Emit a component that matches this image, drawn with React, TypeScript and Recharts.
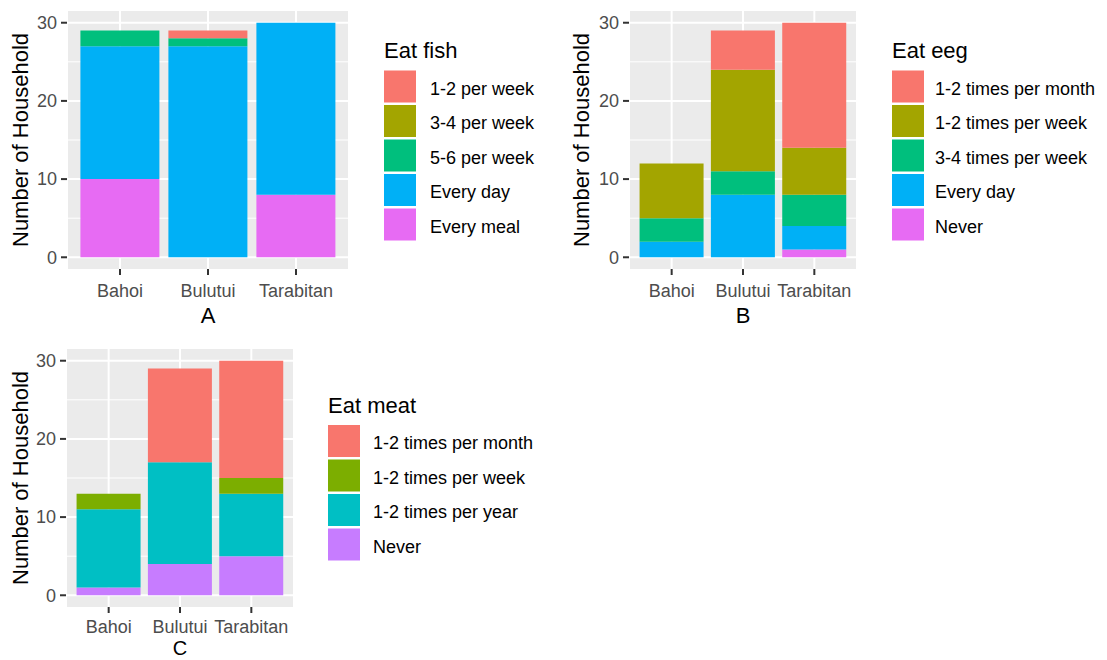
import { BarChart, Bar, XAxis, YAxis, CartesianGrid } from "recharts";

const SITES = ["Bahoi", "Bulutui", "Tarabitan"];
const Y_TICKS = [0, 10, 20, 30];
const Y_MINOR = [5, 15, 25];

// households per village, by how often they eat fish
const FISH_LEVELS = ["1-2 per week", "3-4 per week", "5-6 per week", "Every day", "Every meal"];
const fishWeek12 = [0, 1, 0];
const fishWeek34 = [0, 0, 0];
const fishWeek56 = [2, 1, 0];
const fishEveryDay = [17, 27, 22];
const fishEveryMeal = [10, 0, 8];

// ... eggs
const EGG_LEVELS = ["1-2 times per month", "1-2 times per week", "3-4 times per week", "Every day", "Never"];
const eggMonth12 = [0, 5, 16];
const eggWeek12 = [7, 13, 6];
const eggWeek34 = [3, 3, 4];
const eggEveryDay = [2, 8, 3];
const eggNever = [0, 0, 1];

// ... meat
const MEAT_LEVELS = ["1-2 times per month", "1-2 times per week", "1-2 times per year", "Never"];
const meatMonth12 = [0, 12, 15];
const meatWeek12 = [2, 0, 2];
const meatYear12 = [10, 13, 8];
const meatNever = [1, 4, 5];

const HUE5 = ["#F8766D", "#A3A500", "#00BF7D", "#00B0F6", "#E76BF3"];
const HUE4 = ["#F8766D", "#7CAE00", "#00BFC4", "#C77CFF"];

const FONT = '"Liberation Sans", Arial, sans-serif';
const KEY_SIZE = 32;
const KEY_PITCH = 34.5;

function toRows(series: number[][]) {
  return SITES.map((site, i) => {
    const row: Record<string, string | number> = { site };
    series.forEach((s, j) => {
      row["s" + j] = s[i];
    });
    return row;
  });
}

interface PanelProps {
  left: number;
  top: number;
  width: number;
  height: number;
  margin: { top: number; right: number; bottom: number; left: number };
  xAxisHeight: number;
  xTickMargin: number;
  letterSize: number;
  pad: number;
  titleOffset: number;
  letter: string;
  levels: string[];
  series: number[][];
  colors: string[];
}

function StackPanel(p: PanelProps) {
  const data = toRows(p.series);
  // ggplot stacks the first level on top, so draw from the last one up
  const order = p.levels.map((_, i) => i).reverse();
  return (
    <div style={{ position: "absolute", left: p.left, top: p.top }}>
      <BarChart width={p.width} height={p.height} data={data} margin={p.margin} barCategoryGap="5%">
        <CartesianGrid
          fill="#EBEBEB"
          stroke="#FFFFFF"
          strokeWidth={1}
          vertical={false}
          horizontalValues={Y_MINOR}
        />
        <CartesianGrid stroke="#FFFFFF" strokeWidth={2} horizontalValues={Y_TICKS} />
        <XAxis
          dataKey="site"
          interval={0}
          axisLine={false}
          tickSize={6}
          tickMargin={p.xTickMargin}
          tickLine={{ stroke: "#333333", strokeWidth: 2 }}
          tick={{ fill: "#4D4D4D", fontSize: 18, fontFamily: FONT }}
          padding={{ left: p.pad, right: p.pad }}
          height={p.xAxisHeight}
          label={{
            value: p.letter,
            position: "bottom",
            offset: 0,
            fill: "#000000",
            fontSize: p.letterSize,
            fontFamily: FONT,
          }}
        />
        <YAxis
          type="number"
          domain={[-1.5, 31.5]}
          allowDataOverflow
          ticks={Y_TICKS}
          interval={0}
          width={60}
          axisLine={false}
          tickSize={6}
          tickMargin={4}
          tickLine={{ stroke: "#333333", strokeWidth: 2 }}
          tick={{ fill: "#4D4D4D", fontSize: 18, fontFamily: FONT }}
          label={{
            value: "Number of Household",
            angle: -90,
            position: "insideLeft",
            offset: p.titleOffset,
            fill: "#000000",
            fontSize: 22,
            fontFamily: FONT,
            style: { textAnchor: "middle" },
          }}
        />
        {order.map((i) => (
          <Bar
            key={i}
            dataKey={"s" + i}
            name={p.levels[i]}
            stackId="a"
            fill={p.colors[i]}
            isAnimationActive={false}
          />
        ))}
      </BarChart>
    </div>
  );
}

interface KeyProps {
  x: number;
  titleY: number;
  keyTop: number;
  labelX: number;
  title: string;
  levels: string[];
  colors: string[];
}

function FillLegend({ x, titleY, keyTop, labelX, title, levels, colors }: KeyProps) {
  return (
    <g fontFamily={FONT}>
      <text x={x} y={titleY} fontSize={22} fill="#000000">
        {title}
      </text>
      {levels.map((lv, i) => {
        const y = keyTop + i * KEY_PITCH;
        return (
          <g key={lv}>
            <rect x={x} y={y} width={KEY_SIZE} height={KEY_SIZE} fill={colors[i]} />
            <text x={labelX} y={y + 24} fontSize={18} fill="#000000">
              {lv}
            </text>
          </g>
        );
      })}
    </g>
  );
}

export default function App() {
  return (
    <div
      style={{
        position: "absolute",
        left: 0,
        top: 0,
        width: 1107,
        height: 660,
        background: "#FFFFFF",
        overflow: "hidden",
        fontFamily: FONT,
      }}
    >
      <StackPanel
        left={0}
        top={0}
        width={360}
        height={330}
        margin={{ top: 11, right: 11, bottom: 23, left: 7 }}
        xAxisHeight={38}
        xTickMargin={9}
        letterSize={22}
        pad={9}
        titleOffset={13}
        letter="A"
        levels={FISH_LEVELS}
        series={[fishWeek12, fishWeek34, fishWeek56, fishEveryDay, fishEveryMeal]}
        colors={HUE5}
      />
      <StackPanel
        left={560}
        top={0}
        width={310}
        height={330}
        margin={{ top: 11, right: 13, bottom: 23, left: 9 }}
        xAxisHeight={38}
        xTickMargin={9}
        letterSize={22}
        pad={7}
        titleOffset={12}
        letter="B"
        levels={EGG_LEVELS}
        series={[eggMonth12, eggWeek12, eggWeek34, eggEveryDay, eggNever]}
        colors={HUE5}
      />
      <StackPanel
        left={0}
        top={340}
        width={310}
        height={320}
        margin={{ top: 9, right: 16, bottom: 19, left: 6 }}
        xAxisHeight={34}
        xTickMargin={7}
        letterSize={20}
        pad={7}
        titleOffset={14}
        letter="C"
        levels={MEAT_LEVELS}
        series={[meatMonth12, meatWeek12, meatYear12, meatNever]}
        colors={HUE4}
      />
      <svg
        width={1107}
        height={660}
        style={{ position: "absolute", left: 0, top: 0, pointerEvents: "none" }}
      >
        <FillLegend x={384} titleY={58} keyTop={70.5} labelX={430} title="Eat fish" levels={FISH_LEVELS} colors={HUE5} />
        <FillLegend x={892} titleY={58} keyTop={70.5} labelX={935} title="Eat eeg" levels={EGG_LEVELS} colors={HUE5} />
        <FillLegend x={328} titleY={413} keyTop={425} labelX={373} title="Eat meat" levels={MEAT_LEVELS} colors={HUE4} />
      </svg>
    </div>
  );
}
